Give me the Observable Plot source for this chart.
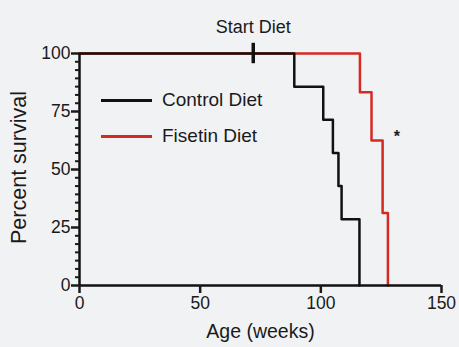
<!DOCTYPE html>
<html>
<head>
<meta charset="utf-8">
<script src="https://cdn.jsdelivr.net/npm/d3@7"></script>
<script src="https://cdn.jsdelivr.net/npm/@observablehq/plot@0.6"></script>
<style>
  html, body { margin: 0; padding: 0; background: #f1f2f4; }
  #wrap { position: relative; width: 459px; height: 347px; font-family: "Liberation Sans", Arial, Helvetica, sans-serif; }
  #legend { position: absolute; left: 101px; top: 82px; }
  .item { display: flex; align-items: center; height: 36px; font-size: 19px; color: #1a1a1a; }
  .sw { width: 51px; height: 0; border-top: 3.5px solid; margin-right: 10px; }
</style>
</head>
<body>
<div id="wrap"></div>
<script>
// Data
const controlWeeks    = [0, 89, 101, 105, 107.3, 108.6, 116];
const controlSurvival = [100, 85.7, 71.4, 57.1, 42.9, 28.6, 0];
const fisetinWeeks    = [0, 116.2, 121, 125.6, 127.8];
const fisetinSurvival = [100, 83.3, 62.5, 31.3, 0];
const seriesNames  = ["Control Diet", "Fisetin Diet"];
const seriesColors = ["#111111", "#d52a22"];
const startDietWeek = 72;
const xTicks = [0, 50, 100, 150];
const yTicks = [0, 25, 50, 75, 100];
const yMinorTicks = d3.range(0, 28).map(k => k * 25 / 7).filter(v => !yTicks.some(t => Math.abs(t - v) < 1e-6));

const control = controlWeeks.map((w, i) => ({week: w, survival: controlSurvival[i]}));
const fisetin = fisetinWeeks.map((w, i) => ({week: w, survival: fisetinSurvival[i]}));

const font = "Liberation Sans, Arial, Helvetica, sans-serif";

const chart = Plot.plot({
  width: 459,
  height: 347,
  marginLeft: 79,
  marginRight: 18,
  marginTop: 53,
  marginBottom: 62,
  style: {background: "#f1f2f4", fontFamily: font, color: "#1a1a1a", overflow: "visible"},
  x: {domain: [0, 150]},
  y: {domain: [0, 100]},
  marks: [
    // series
    Plot.line(fisetin, {x: "week", y: "survival", curve: "step-after", stroke: seriesColors[1], strokeWidth: 2.5}),
    Plot.line(control, {x: "week", y: "survival", curve: "step-after", stroke: seriesColors[0], strokeWidth: 2.5}),
    // axis lines
    Plot.ruleY([0], {x1: 0, x2: 150, stroke: "#111", strokeWidth: 2.5}),
    Plot.ruleX([0], {y1: 0, y2: 100, stroke: "#111", strokeWidth: 2.5}),
    // axes
    Plot.axisX({ticks: xTicks, tickSize: 8, tickPadding: 3, strokeWidth: 2.5, fontSize: 17.5, label: null, tickFormat: d => String(d)}),
    Plot.axisY({ticks: yTicks, tickSize: 8, tickPadding: 1, strokeWidth: 2.5, fontSize: 17.5, label: null, tickFormat: d => String(d)}),
    Plot.axisY({ticks: yMinorTicks, tickSize: 4, strokeWidth: 2, text: null, label: null}),
    // axis titles
    Plot.text(["Age (weeks)"], {frameAnchor: "bottom", dy: 52, fontSize: 19.5, fontFamily: font, fill: "#1a1a1a"}),
    Plot.text(["Percent survival"], {frameAnchor: "left", textAnchor: "middle", dx: -60.5, dy: -2, rotate: -90, fontSize: 21.5, fontFamily: font, fill: "#1a1a1a"}),
    // start diet marker
    Plot.ruleX([startDietWeek], {y1: 95.6, y2: 104.4, stroke: "#111", strokeWidth: 3.5}),
    Plot.text(["Start Diet"], {x: startDietWeek, y: 100, dy: -26, fontSize: 18, fontFamily: font, fill: "#1a1a1a"}),
    // significance
    Plot.text(["*"], {x: 131.5, y: 64, fontSize: 16, fontFamily: font, fill: "#1a1a1a", fontWeight: "bold"})
  ]
});

const wrap = document.getElementById("wrap");
wrap.appendChild(chart);
const legend = document.createElement("div");
legend.id = "legend";
seriesNames.forEach((name, i) => {
  const item = document.createElement("div");
  item.className = "item";
  const sw = document.createElement("span");
  sw.className = "sw";
  sw.style.borderTopColor = seriesColors[i];
  const label = document.createElement("span");
  label.textContent = name;
  item.appendChild(sw);
  item.appendChild(label);
  legend.appendChild(item);
});
wrap.appendChild(legend);
</script>
</body>
</html>
